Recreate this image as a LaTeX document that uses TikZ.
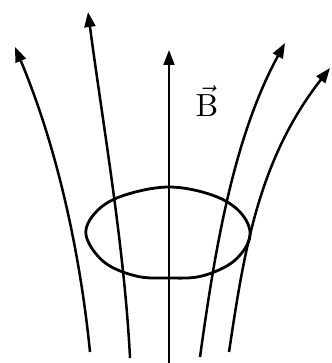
\documentclass[tikz,border=0pt]{standalone}
\usetikzlibrary{arrows.meta}
\begin{document}
\begin{tikzpicture}[x=1pt,y=-1pt,
  fieldline/.style={line width=2.5pt,-{Triangle[length=15pt,width=11pt]}},
  axisline/.style={line width=1.6pt,-{Triangle[length=15pt,width=11pt]}},
  loop/.style={line width=2.8pt,line join=round}]
\useasboundingbox (0,0) rectangle (331,363);
% end points
\coordinate (a0) at (90,352);  \coordinate (a1) at (15,47);
\coordinate (b0) at (130,358); \coordinate (b1) at (88,12);
\coordinate (c0) at (169,365); \coordinate (c1) at (169,50);
\coordinate (d0) at (200,357); \coordinate (d1) at (285,43);
\coordinate (e0) at (229,352); \coordinate (e1) at (330,68);
% field lines
\draw[fieldline] (a0) .. controls (80,252) and (57,147) .. (a1);
\draw[fieldline] (b0) .. controls (124.5,248) and (103,125) .. (b1);
\draw[axisline] (c0) -- (c1);
\draw[fieldline] (d0) .. controls (214,257) and (232,140) .. (d1);
\draw[fieldline] (e0) .. controls (244,252) and (258,160) .. (e1);
% loop
\draw[loop] plot[smooth cycle, tension=0.6] coordinates {
  (86,235) (96,212) (122,196) (168,187) (212,195) (240,212) (250,236)
  (234,261) (202,276) (168,278) (136,276) (104,262)};
% label
\node[scale=3.2,inner sep=0pt] (lbl) at (207,101) {$\vec{\mathrm{B}}$};
\end{tikzpicture}
\end{document}
